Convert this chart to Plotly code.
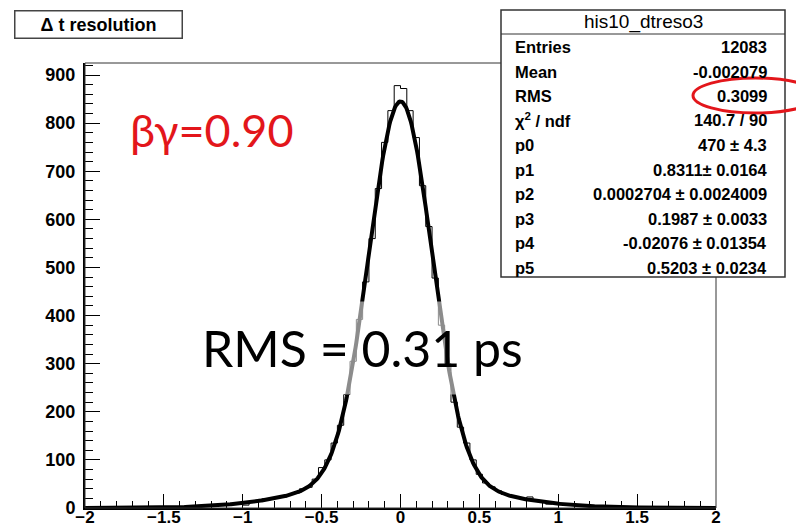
import numpy as np
import plotly.graph_objects as go

# ---------------- data ----------------
bin_lo, bin_hi, n_bins = -2.0, 2.0, 100
counts = [
    2, 1, 1, 0, 0, 1, 0, 0, 1, 0,
    1, 1, 1, 2, 1, 2, 3, 4, 3, 4,
    6, 5, 6, 8, 9, 6, 13, 16, 19, 18,
    22, 23, 28, 31, 40, 43, 60, 84, 100, 135,
    172, 236, 305, 392, 470, 560, 664, 760, 826, 878,
    872, 826, 770, 670, 585, 478, 380, 300, 220, 168,
    135, 100, 70, 52, 44, 36, 28, 24, 22, 19,
    23, 14, 12, 8, 10, 9, 7, 6, 5, 4,
    4, 3, 2, 3, 1, 3, 1, 1, 1, 0,
    1, 0, 0, 1, 0, 0, 1, 0, 0, 0,
]
# double-gaussian fit parameters shown in the stats box
fit_params = [470.0, 0.8311, 0.0002704, 0.1987, -0.02076, 0.5203]

hist_name = "his10_dtreso3"
stat_labels = ["Entries", "Mean", "RMS", "χ<sup>2</sup> / ndf",
               "p0", "p1", "p2", "p3", "p4", "p5"]
stat_values = ["12083", "-0.002079", "0.3099", "140.7 / 90",
               "470 ± 4.3", "0.8311± 0.0164", "0.0002704 ± 0.0024009",
               "0.1987 ± 0.0033", "-0.02076 ± 0.01354", "0.5203 ± 0.0234"]
title_text = "Δ t resolution"
label_bg = "βγ=0.90"
label_rms = "RMS = 0.31 ps"
y_max = 925

# ---------------- derived ----------------
bw = (bin_hi - bin_lo) / n_bins
edges = bin_lo + bw * np.arange(n_bins + 1)
hx = list(edges)
hy = list(counts) + [counts[-1]]

p0, p1, p2, p3, p4, p5 = fit_params
fx = np.linspace(bin_lo, bin_hi, 801)
s2p = np.sqrt(2 * np.pi)
fy = p0 * (p1 / (s2p * p3) * np.exp(-0.5 * ((fx - p2) / p3) ** 2)
           + (1 - p1) / (s2p * p5) * np.exp(-0.5 * ((fx - p4) / p5) ** 2))

W, H = 796, 529
L, R, T, B = 85, 716, 63, 508


def px(xp):
    return (xp - L) / (R - L)


def py(yp):
    return (B - yp) / (B - T)


fig = go.Figure()
fig.add_trace(go.Scatter(x=hx, y=hy, mode="lines", line=dict(color="black", width=1, shape="hv"),
                         hoverinfo="skip", showlegend=False))
fig.add_trace(go.Scatter(x=fx, y=fy, mode="lines", line=dict(color="black", width=4),
                         hoverinfo="skip", showlegend=False))

tickfont = dict(family="Liberation Sans", size=18, color="black", weight="bold")
xtickfont = dict(family="Liberation Sans", size=17, color="black", weight="bold")
fig.update_layout(
    width=W, height=H, margin=dict(l=L, r=W - R, t=T, b=H - B, autoexpand=False),
    paper_bgcolor="white", plot_bgcolor="white",
    xaxis=dict(range=[bin_lo, bin_hi], tickmode="linear", tick0=-2, dtick=0.5,
               ticks="inside", ticklen=14, tickwidth=1, tickcolor="black",
               minor=dict(dtick=0.1, ticks="inside", ticklen=7, tickcolor="black"),
               showgrid=False, zeroline=False, showline=True, linecolor="black", linewidth=2,
               tickfont=xtickfont, ticklabelstandoff=-7, automargin=False),
    yaxis=dict(range=[0, y_max], tickmode="linear", tick0=0, dtick=100,
               ticks="inside", ticklen=15, tickwidth=1, tickcolor="black",
               minor=dict(dtick=20, ticks="inside", ticklen=8, tickcolor="black"),
               showgrid=False, zeroline=False, showline=True, linecolor="black", linewidth=2,
               tickfont=tickfont, ticklabelstandoff=4, automargin=False),
)

shapes = []
# frame
shapes.append(dict(type="rect", xref="paper", yref="paper", x0=0, x1=1, y0=0, y1=1,
                   line=dict(color="#333", width=1)))
# stats box
shapes.append(dict(type="rect", xref="paper", yref="paper", x0=px(501), x1=px(785),
                   y0=py(277), y1=py(10), fillcolor="white", line=dict(color="#333", width=1.5),
                   layer="above"))
shapes.append(dict(type="line", xref="paper", yref="paper", x0=px(501), x1=px(785),
                   y0=py(34), y1=py(34), line=dict(color="#333", width=1), layer="above"))
# red ellipse
shapes.append(dict(type="circle", xref="paper", yref="paper", x0=px(693), x1=px(818),
                   y0=py(113), y1=py(78), line=dict(color="#e3161b", width=3), layer="above"))
fig.update_layout(shapes=shapes)

ann = []
ann.append(dict(xref="paper", yref="paper", x=px(14), y=py(10), xanchor="left", yanchor="top",
                text=title_text, showarrow=False, width=164, height=24,
                bordercolor="#444", borderwidth=1.5, bgcolor="white", borderpad=1,
                font=dict(family="Liberation Sans", size=18, color="black", weight="bold")))
ann.append(dict(xref="paper", yref="paper", x=px(643), y=py(22), xanchor="center", yanchor="middle",
                text=hist_name, showarrow=False,
                font=dict(family="Liberation Sans", size=19, color="black")))
row_y = [47, 72, 96, 120, 145, 170, 194, 219, 243, 268]
sfont = dict(family="Liberation Sans", size=16.5, color="black", weight="bold")
for lab, val, yy in zip(stat_labels, stat_values, row_y):
    ann.append(dict(xref="paper", yref="paper", x=px(513), y=py(yy), xanchor="left", yanchor="middle",
                    text=lab, showarrow=False, font=sfont))
    ann.append(dict(xref="paper", yref="paper", x=px(769), y=py(yy), xanchor="right", yanchor="middle",
                    text=val, showarrow=False, font=sfont))
ann.append(dict(xref="paper", yref="paper", x=px(128), y=py(130), xanchor="left", yanchor="middle",
                text=label_bg, showarrow=False,
                font=dict(family="Lato", size=45, color="#e3161b")))
ann.append(dict(xref="paper", yref="paper", x=px(362), y=py(348), xanchor="center", yanchor="middle",
                text=label_rms, showarrow=False, bgcolor="rgba(255,255,255,0.55)", borderpad=16,
                font=dict(family="Lato", size=50, color="black")))
fig.update_layout(annotations=ann)

fig.write_html("out.html")
